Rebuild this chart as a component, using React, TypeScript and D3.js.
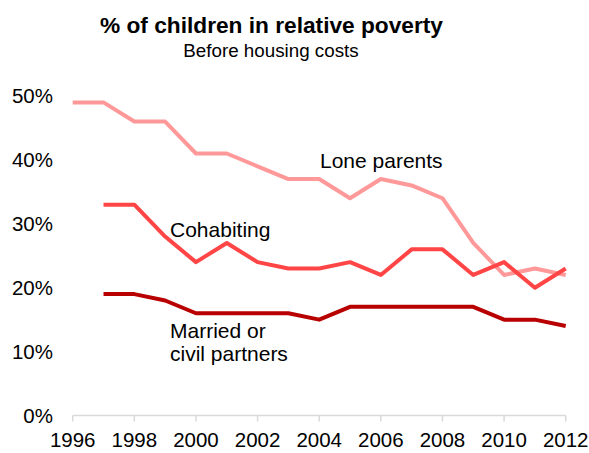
import React from "react";
import * as d3 from "d3";

const years = [1996, 1997, 1998, 1999, 2000, 2001, 2002, 2003, 2004, 2005, 2006, 2007, 2008, 2009, 2010, 2011, 2012];
const loneParents: (number | null)[] = [49, 49, 46, 46, 41, 41, 39, 37, 37, 34, 37, 36, 34, 27, 22, 23, 22];
const cohabiting: (number | null)[] = [null, 33, 33, 28, 24, 27, 24, 23, 23, 24, 22, 26, 26, 22, 24, 20, 23];
const married: (number | null)[] = [null, 19, 19, 18, 16, 16, 16, 16, 15, 17, 17, 17, 17, 17, 15, 15, 14];
const yTicks = [0, 10, 20, 30, 40, 50];
const xTicks = [1996, 1998, 2000, 2002, 2004, 2006, 2008, 2010, 2012];

const series = [
  { name: "Lone parents", values: loneParents, color: "#ff9999" },
  { name: "Cohabiting", values: cohabiting, color: "#ff4545" },
  { name: "Married", values: married, color: "#b80000" },
];

export default function App() {
  const W = 589, H = 453;
  const x = d3.scaleLinear().domain([1996, 2012]).range([72.7, 565.7]);
  const y = d3.scaleLinear().domain([0, 50]).range([415.5, 96]);
  const line = d3
    .line<number | null>()
    .defined((d) => d !== null)
    .x((_, i) => x(years[i]))
    .y((d) => y(d as number));
  const font = "Liberation Sans, Arial, sans-serif";
  return (
    <svg width={W} height={H} style={{ position: "absolute", left: 0, top: 0 }} fontFamily={font}>
      <rect width={W} height={H} fill="#fff" />
      <text x={271.5} y={32.5} textAnchor="middle" fontSize={22.7} fontWeight="bold" fill="#000">
        % of children in relative poverty
      </text>
      <text x={271} y={57} textAnchor="middle" fontSize={18.8} fill="#000">
        Before housing costs
      </text>
      {yTicks.map((t) => (
        <text key={t} x={53} y={y(t)} dy="0.35em" textAnchor="end" fontSize={20.5} fill="#000">
          {t}%
        </text>
      ))}
      <line x1={x(1996)} x2={x(2012)} y1={y(0)} y2={y(0)} stroke="#d9d9d9" strokeWidth={1.5} />
      {xTicks.map((t) => (
        <g key={t}>
          <line x1={x(t)} x2={x(t)} y1={y(0)} y2={y(0) + 6} stroke="#d9d9d9" strokeWidth={1.5} />
          <text x={x(t)} y={446.5} textAnchor="middle" fontSize={20.5} fill="#000">
            {t}
          </text>
        </g>
      ))}
      {series.map((s) => (
        <path key={s.name} d={line(s.values) || ""} fill="none" stroke={s.color} strokeWidth={4} strokeLinejoin="round" />
      ))}
      <text x={320} y={168} fontSize={21} fill="#000">Lone parents</text>
      <text x={170} y={236.5} fontSize={21} fill="#000">Cohabiting</text>
      <text x={170} y={337.5} fontSize={21} fill="#000">Married or</text>
      <text x={170} y={361} fontSize={21} fill="#000">civil partners</text>
    </svg>
  );
}
